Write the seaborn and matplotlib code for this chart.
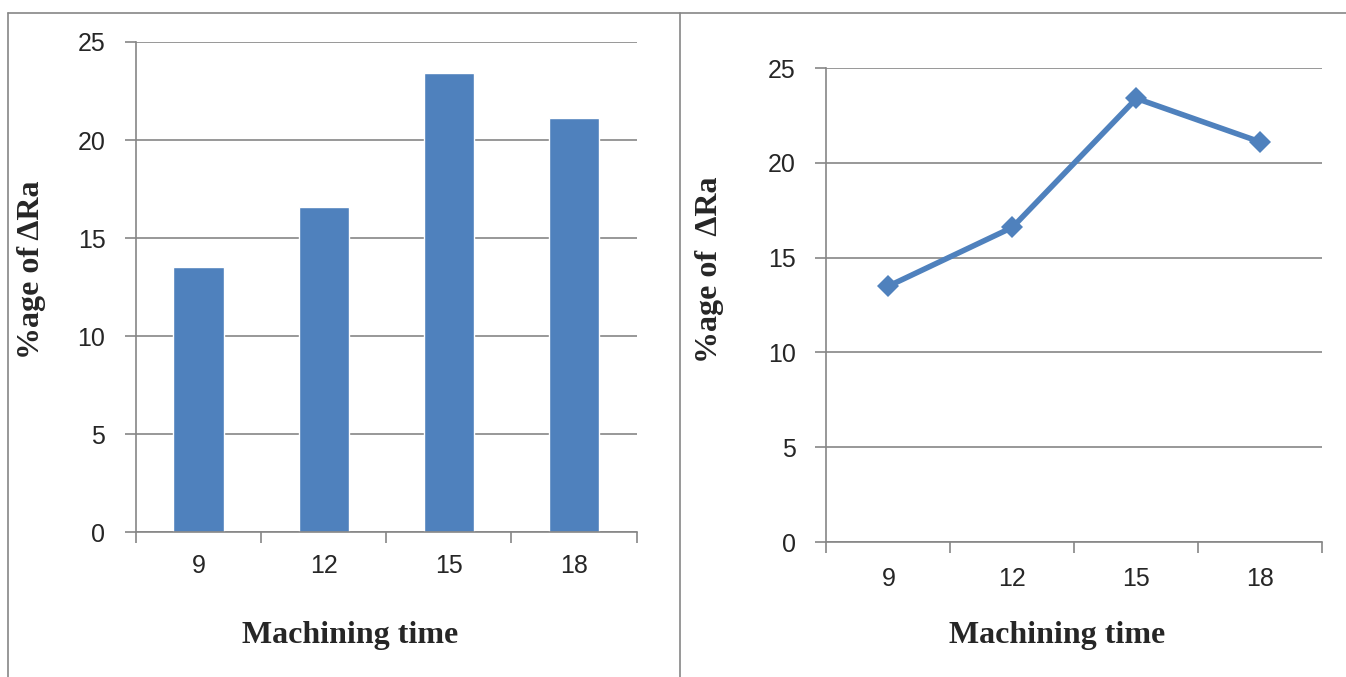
import matplotlib
matplotlib.use("Agg")
import matplotlib.pyplot as plt
from matplotlib.lines import Line2D
import seaborn as sns
import pandas as pd

# data
machining_time = ["9", "12", "15", "18"]
delta_ra_pct = [13.5, 16.6, 23.4, 21.1]
y_ticks = [0, 5, 10, 15, 20, 25]

df = pd.DataFrame({"time": machining_time, "dra": delta_ra_pct})

sns.set_style("white")
plt.rcParams["font.family"] = ["Liberation Sans", "DejaVu Sans"]

blue = "#4F81BD"
grey = "#868686"
serif = ["Liberation Serif", "DejaVu Serif"]

fig = plt.figure(figsize=(13.46, 6.77), dpi=100)

ax1 = fig.add_axes([0.101, 0.214, 0.372, 0.724])
ax2 = fig.add_axes([0.614, 0.1994, 0.3685, 0.700])

sns.barplot(data=df, x="time", y="dra", color=blue, saturation=1, width=0.4, ax=ax1)
sns.lineplot(data=df, x="time", y="dra", color=blue, marker="D", markersize=11,
             markeredgewidth=0, linewidth=4, ax=ax2, sort=False)

for ax in (ax1, ax2):
    ax.set_ylim(0, 25)
    ax.set_xlim(-0.5, len(machining_time) - 0.5)
    ax.set_yticks(y_ticks)
    ax.yaxis.grid(True, color=grey, linewidth=1.2)
    ax.set_axisbelow(True)
    for s in ("top", "right"):
        ax.spines[s].set_visible(False)
    for s in ("left", "bottom"):
        ax.spines[s].set_color(grey)
        ax.spines[s].set_linewidth(1.2)
    ax.tick_params(axis="y", direction="out", length=8, width=1.2, color=grey,
                   labelsize=18, pad=14, left=True)
    # category labels in the middle, tick marks on the boundaries
    ax.tick_params(axis="x", which="major", length=0, labelsize=18, pad=16)
    ax.set_xticks([i - 0.5 for i in range(len(machining_time) + 1)], minor=True)
    ax.tick_params(axis="x", which="minor", direction="out", length=8, width=1.2,
                   color=grey, bottom=True)
    ax.set_xlabel("")
    ax.set_ylabel("")

ax2.tick_params(axis="x", which="major", pad=18)

# axis titles
fig.text(350 / 1346, 1 - 635 / 677, "Machining time", ha="center", va="center",
         family=serif, fontweight="bold", fontsize=23)
fig.text(1057 / 1346, 1 - 635 / 677, "Machining time", ha="center", va="center",
         family=serif, fontweight="bold", fontsize=23)
fig.text(32 / 1346, 1 - 270 / 677, "%age of \u0394Ra", ha="center", va="center",
         rotation=90, family=serif, fontweight="bold", fontsize=23)
fig.text(709 / 1346, 1 - 270 / 677, "%age of  \u0394Ra", ha="center", va="center",
         rotation=90, family=serif, fontweight="bold", fontsize=23)

# table borders around the two panels
top = 1 - 13 / 677
for x in (8 / 1346, 680 / 1346):
    fig.add_artist(Line2D([x, x], [0, top], color=grey, linewidth=1.2,
                          transform=fig.transFigure))
fig.add_artist(Line2D([8 / 1346, 1], [top, top], color=grey, linewidth=1.2,
                      transform=fig.transFigure))

fig.savefig("out.png", dpi=100)
